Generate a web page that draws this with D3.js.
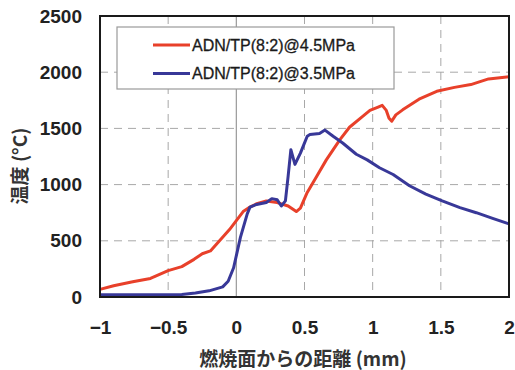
<!DOCTYPE html>
<html>
<head>
<meta charset="utf-8">
<script src="https://cdn.jsdelivr.net/npm/d3@7"></script>
<style>
  html, body { margin: 0; padding: 0; background: #ffffff; }
  svg { display: block; }
</style>
</head>
<body>
<svg id="chart" width="515" height="370"></svg>
<script>
// Distance from burning surface (mm) and temperature (°C) for each pressure
const seriesNames = ["ADN/TP(8:2)@4.5MPa", "ADN/TP(8:2)@3.5MPa"];

const distHigh = [-1.00, -0.90, -0.76, -0.63, -0.50, -0.40, -0.31, -0.25, -0.19, -0.12, -0.05, 0.00,
  0.05, 0.10, 0.15, 0.22, 0.30, 0.38, 0.44, 0.47, 0.52, 0.59, 0.66, 0.76, 0.83, 0.92, 0.98,
  1.04, 1.07, 1.10, 1.12, 1.14, 1.17, 1.22, 1.34, 1.47, 1.60, 1.72, 1.85, 2.00];
const tempHigh = [68, 100, 135, 165, 235, 270, 335, 385, 410, 505, 600, 680,
  760, 800, 830, 855, 840, 810, 760, 790, 930, 1075, 1220, 1400, 1510, 1600, 1660,
  1690, 1705, 1660, 1590, 1565, 1620, 1665, 1760, 1830, 1865, 1890, 1940, 1960];

const distLow = [-1.00, -0.40, -0.30, -0.20, -0.10, -0.06, -0.02, 0.03, 0.08, 0.10, 0.14, 0.22,
  0.26, 0.30, 0.33, 0.36, 0.38, 0.40, 0.43, 0.47, 0.49, 0.52, 0.54, 0.61, 0.65, 0.71, 0.78,
  0.88, 0.96, 1.05, 1.15, 1.27, 1.39, 1.51, 1.64, 1.76, 1.88, 2.00];
const tempLow = [20, 22, 35, 55, 90, 140, 260, 530, 740, 800, 820, 840,
  875, 865, 810, 855, 1075, 1310, 1180, 1280, 1340, 1430, 1445, 1455, 1485, 1430, 1370,
  1270, 1220, 1150, 1090, 990, 915, 855, 795, 750, 700, 650];

const xTicks = [-1, -0.5, 0, 0.5, 1, 1.5, 2];
const yTicks = [0, 500, 1000, 1500, 2000, 2500];
const seriesColors = ["#e8402a", "#383898"];

const svg = d3.select("#chart");
const plotL = 100, plotR = 509, plotT = 16, plotB = 297;

const x = d3.scaleLinear().domain([-1, 2]).range([plotL, plotR]);
const y = d3.scaleLinear().domain([0, 2500]).range([plotB, plotT]);

// grid
const grid = svg.append("g");
grid.selectAll("line.gx").data(xTicks.filter(d => d !== 0 && d !== -1 && d !== 2)).join("line")
  .attr("x1", d => x(d)).attr("x2", d => x(d)).attr("y1", plotT).attr("y2", plotB)
  .attr("stroke", "#a8a8a8").attr("stroke-width", 1).attr("stroke-dasharray", "8,6");
grid.selectAll("line.gy").data(yTicks.filter(d => d !== 0 && d !== 2500)).join("line")
  .attr("x1", plotL).attr("x2", plotR).attr("y1", d => y(d)).attr("y2", d => y(d))
  .attr("stroke", "#a8a8a8").attr("stroke-width", 1).attr("stroke-dasharray", "8,6");
// burning surface line
grid.append("line")
  .attr("x1", x(0)).attr("x2", x(0)).attr("y1", plotT).attr("y2", plotB)
  .attr("stroke", "#999").attr("stroke-width", 1.2);

// axes (labels only, frame drawn separately)
const yAxis = d3.axisLeft(y).tickValues(yTicks).tickSize(0).tickPadding(18)
  .tickFormat(d3.format("d"));
const xAxis = d3.axisBottom(x).tickValues(xTicks).tickSize(0).tickPadding(24)
  .tickFormat(d => d3.format("")(d));

const gy = svg.append("g").attr("transform", `translate(${plotL},0)`).call(yAxis);
const gx = svg.append("g").attr("transform", `translate(0,${plotB})`).call(xAxis);
[gx, gy].forEach(g => {
  g.select(".domain").remove();
  g.selectAll("text").attr("font-family", "Liberation Sans, Arial, sans-serif")
    .attr("font-size", 19).attr("font-weight", "bold").attr("fill", "#222");
});

// data lines
const line = d3.line().x(d => x(d[0])).y(d => y(d[1]));
const dataHigh = distHigh.map((d, i) => [d, tempHigh[i]]);
const dataLow = distLow.map((d, i) => [d, tempLow[i]]);
svg.append("path").datum(dataHigh).attr("d", line)
  .attr("fill", "none").attr("stroke", seriesColors[0]).attr("stroke-width", 3)
  .attr("stroke-linejoin", "round");
svg.append("path").datum(dataLow).attr("d", line)
  .attr("fill", "none").attr("stroke", seriesColors[1]).attr("stroke-width", 3)
  .attr("stroke-linejoin", "round");

// frame
svg.append("rect").attr("x", plotL).attr("y", plotT)
  .attr("width", plotR - plotL).attr("height", plotB - plotT)
  .attr("fill", "none").attr("stroke", "#1a1a1a").attr("stroke-width", 2);

// legend
const lg = svg.append("g");
lg.append("rect").attr("x", 117).attr("y", 27).attr("width", 277).attr("height", 62)
  .attr("fill", "#fff").attr("stroke", "#9a9a9a").attr("stroke-width", 1.2);
seriesNames.forEach((name, i) => {
  const yy = 45 + i * 28.5;
  lg.append("line").attr("x1", 153).attr("x2", 190).attr("y1", yy).attr("y2", yy)
    .attr("stroke", seriesColors[i]).attr("stroke-width", 3);
  lg.append("text").attr("x", 192).attr("y", yy).attr("dy", "0.36em")
    .attr("font-family", "Liberation Sans, Arial, sans-serif")
    .attr("font-size", 16).attr("fill", "#1a1a1a").attr("stroke", "#1a1a1a")
    .attr("stroke-width", 0.3).text(name);
});

// axis titles
svg.append("text").attr("x", 303).attr("y", 366).attr("text-anchor", "middle")
  .attr("font-family", "Noto Sans CJK JP, sans-serif").attr("font-size", 19)
  .attr("font-weight", "bold").attr("fill", "#333").text("燃焼面からの距離 (mm)");
svg.append("text").attr("transform", "translate(27,166) rotate(-90)")
  .attr("text-anchor", "middle")
  .attr("font-family", "Noto Sans CJK JP, sans-serif").attr("font-size", 19)
  .attr("font-weight", "bold").attr("fill", "#333").text("温度 (°C)");
</script>
</body>
</html>
